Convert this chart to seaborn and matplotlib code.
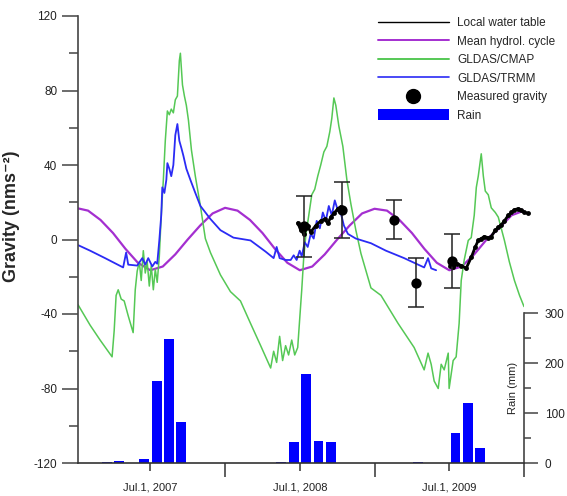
import matplotlib
matplotlib.use("Agg")
import matplotlib.pyplot as plt
from matplotlib.lines import Line2D
from matplotlib.patches import Patch
from matplotlib.ticker import MultipleLocator
from matplotlib.transforms import blended_transform_factory
import seaborn as sns

# ---------------- data (time in decimal years) ----------------
# mean hydrological cycle, sampled at the start of each month 2007-2009
mean_t = [2007 + m / 12 for m in range(37)]
mean_v = [17, 15.5, 10.5, 3.5, -5, -12.5, -16.5, -14.5, -8, 0, 7.5, 14,
          17, 15.5, 10.5, 3.5, -5, -12.5, -16.5, -14.5, -8, 0, 7.5, 14,
          16.5, 15.5, 10.5, 3.5, -5, -12.5, -16.5, -14.5, -8, 0, 6, 13,
          15.5]

# GLDAS/CMAP
cmap_t = [2007.016, 2007.097, 2007.164, 2007.244, 2007.258, 2007.271, 2007.285,
          2007.305, 2007.325, 2007.352, 2007.385, 2007.399, 2007.412, 2007.426,
          2007.439, 2007.453, 2007.466, 2007.479, 2007.493, 2007.506, 2007.520,
          2007.533, 2007.546, 2007.560, 2007.573, 2007.587, 2007.600, 2007.614,
          2007.627, 2007.640, 2007.654, 2007.667, 2007.681, 2007.694, 2007.701,
          2007.715, 2007.728, 2007.741, 2007.755, 2007.775, 2007.801, 2007.835,
          2007.868, 2007.902, 2007.969, 2008.036, 2008.103, 2008.170, 2008.238,
          2008.305, 2008.325, 2008.345, 2008.365, 2008.385, 2008.405, 2008.425,
          2008.446, 2008.466, 2008.486, 2008.499, 2008.513, 2008.526, 2008.540,
          2008.560, 2008.580, 2008.600, 2008.620, 2008.640, 2008.661, 2008.681,
          2008.701, 2008.714, 2008.728, 2008.741, 2008.761, 2008.788, 2008.815,
          2008.842, 2008.875, 2008.909, 2008.976, 2009.043, 2009.157, 2009.265,
          2009.332, 2009.358, 2009.379, 2009.399, 2009.426, 2009.446, 2009.466,
          2009.493, 2009.499, 2009.526, 2009.546, 2009.566, 2009.580, 2009.600,
          2009.627, 2009.647, 2009.667, 2009.681, 2009.694, 2009.714, 2009.728,
          2009.741, 2009.761, 2009.781, 2009.808, 2009.828, 2009.869, 2009.902,
          2009.936, 2009.970, 2010.000]
cmap_v = [-35, -46, -54, -63, -49, -30, -27,
          -32, -33, -41, -50, -27, -17, -12,
          -22, -6, -18, -12, -25, -14, -27,
          -16, -23, -9, 13, 32, 53, 69,
          67, 70, 68, 75, 77, 96, 100,
          83, 77, 72, 64, 48, 34, 18,
          0.5, -7, -19, -28, -33, -45, -57,
          -69, -60, -66, -52, -65, -57, -62,
          -54, -62, -58, -43, -27, -10, 2,
          13, 24, 27, 34, 40, 47, 50,
          58, 65, 76, 72, 61, 50, 32,
          19, 5, -7.5, -26, -30, -45, -58,
          -70, -61, -67, -76, -80, -67, -70,
          -61, -80, -65, -63, -45, -22, -11,
          -0.5, 1, 13, 28, 34, 46, 34,
          26, 24, 17, 14.5, 12, -0.5, -12,
          -22, -30, -36]

# GLDAS/TRMM
trmm_t = [2007.016, 2007.097, 2007.197, 2007.318, 2007.338, 2007.352, 2007.412,
          2007.446, 2007.466, 2007.486, 2007.513, 2007.533, 2007.546, 2007.560,
          2007.573, 2007.580, 2007.594, 2007.607, 2007.614, 2007.627, 2007.640,
          2007.654, 2007.667, 2007.681, 2007.694, 2007.708, 2007.721, 2007.741,
          2007.768, 2007.801, 2007.835, 2007.902, 2007.969, 2008.056, 2008.170,
          2008.271, 2008.325, 2008.345, 2008.365, 2008.405, 2008.439, 2008.459,
          2008.479, 2008.499, 2008.513, 2008.533, 2008.553, 2008.573, 2008.593,
          2008.613, 2008.634, 2008.654, 2008.674, 2008.694, 2008.714, 2008.734,
          2008.755, 2008.775, 2008.795, 2008.822, 2008.875, 2008.976, 2009.076,
          2009.198, 2009.332, 2009.358, 2009.379, 2009.412]
trmm_v = [-3, -6, -10, -15, -7, -13.5, -14,
          -10, -13.5, -10, -14.5, -12, -13, -0.5,
          13, 28, 25, 32, 41, 38, 34,
          40, 56, 62, 53, 49, 45, 38,
          32, 25, 18, 11, 5, 1, -0.5,
          -6.5, -10, -4, -10, -11, -11, -8.5,
          -11, -6, -9, -1.5, -4, 3, 0.5,
          10, 6, 14.5, 10, 18, 13, 21,
          15.5, 14, 7.5, 3, 0.5, -2, -6,
          -10, -15, -10, -15.5, -16.5]

# local water table (two observation periods)
wt1_t = [2008.486, 2008.506, 2008.526, 2008.553, 2008.573, 2008.607, 2008.640,
         2008.667, 2008.687, 2008.707, 2008.728, 2008.755, 2008.775, 2008.795]
wt1_v = [9, 5, 3, 7, 4, 7.5, 10, 11, 8.6, 12, 14, 16.6, 17.7, 15.5]
wt2_t = [2009.506, 2009.526, 2009.553, 2009.580, 2009.613, 2009.647, 2009.674,
         2009.694, 2009.714, 2009.734, 2009.761, 2009.781, 2009.808, 2009.828,
         2009.849, 2009.869, 2009.895, 2009.916, 2009.936, 2009.963, 2009.983,
         2010.003, 2010.030]
wt2_v = [-14, -15, -13, -14, -15.5, -9.6, -4, -0.5, 0.5, 1.6, 1, 1.6, 5, 6.5,
         8, 10, 13, 14.5, 16, 16.6, 15.6, 14.5, 14]

# measured gravity with uncertainties
grav_t = [2008.526, 2008.782, 2009.131, 2009.278, 2009.519]
grav_v = [7, 16, 10.7, -23.2, -11.5]
grav_err = [16.5, 15, 10.3, 13.3, 14.5]

# monthly rain (mm), Jan 2007 - Dec 2009
rain_mm = [0, 0, 2, 4, 0, 8, 164, 248, 82, 0, 0, 0,
           0, 0, 0, 0, 2, 42, 178, 44, 42, 0, 0, 0,
           0, 0, 0, 2, 0, 0, 60, 120, 30, 0, 0, 0]
rain_t = [2007 + (m + 0.5) / 12 for m in range(36)]

year_ticks = [2008, 2009, 2010]
date_ticks = [2007.5, 2008.5, 2009.5]
date_labels = ["Jul.1, 2007", "Jul.1, 2008", "Jul.1, 2009"]

# ---------------- colours ----------------
C_MEAN = "#a42fd0"
C_CMAP = "#55c855"
C_TRMM = "#2b2bf5"
C_RAIN = "#0000ff"
C_AXIS = "#444444"

sns.set_style("ticks")
plt.rcParams["font.family"] = ["Liberation Sans", "DejaVu Sans"]
plt.rcParams["axes.unicode_minus"] = False

fig = plt.figure(figsize=(5.67, 4.96), dpi=100)
ax = fig.add_axes([78 / 567, 33 / 496, 446 / 567, 447 / 496])

# rain on a secondary axis, drawn first so the curves sit above it
ax2 = ax.twinx()
sns.barplot(x=rain_t, y=rain_mm, native_scale=True, color=C_RAIN,
            saturation=1, width=0.8, errorbar=None, ax=ax2, linewidth=0)
ax2.set_ylim(0, 894)
ax2.set_xlabel("")
ax2.set_ylabel("")

sns.lineplot(x=mean_t, y=mean_v, color=C_MEAN, lw=1.6, sort=False,
             estimator=None, ax=ax)
sns.lineplot(x=cmap_t, y=cmap_v, color=C_CMAP, lw=1.1, sort=False,
             estimator=None, ax=ax)
sns.lineplot(x=trmm_t, y=trmm_v, color=C_TRMM, lw=1.3, sort=False,
             estimator=None, ax=ax)
for wt_t, wt_v in ((wt1_t, wt1_v), (wt2_t, wt2_v)):
    sns.lineplot(x=wt_t, y=wt_v, color="black", lw=2.0, sort=False,
                 estimator=None, marker="o", markersize=3.5,
                 markeredgewidth=0, ax=ax, clip_on=False)

ax.errorbar(grav_t, grav_v, yerr=grav_err, fmt="none", ecolor="#222222",
            elinewidth=1.1, capsize=6, capthick=1.1, zorder=4)
sns.scatterplot(x=grav_t, y=grav_v, color="black", s=55, linewidth=0,
                ax=ax, zorder=5)

# ---------------- axes styling ----------------
ax.set_xlim(2007.016, 2010.0)
ax.set_ylim(-120, 120)
ax.patch.set_visible(False)
ax.set_zorder(ax2.get_zorder() + 1)

for side in ("top", "right"):
    ax.spines[side].set_visible(False)
ax.spines["left"].set_color(C_AXIS)
ax.spines["bottom"].set_color("#333333")
ax.spines["left"].set_linewidth(1.2)
ax.spines["bottom"].set_linewidth(1.2)

ax.set_yticks(range(-120, 121, 40))
ax.yaxis.set_minor_locator(MultipleLocator(20))
ax.tick_params(axis="y", which="major", length=11.5, width=1.1,
               color=C_AXIS, pad=3.5, labelsize=8.5, labelcolor="#222222")
ax.tick_params(axis="y", which="minor", length=6.5, width=1.1, color=C_AXIS)

ax.set_xticks(year_ticks, labels=["", "", ""])
ax.set_xticks(date_ticks, labels=date_labels, minor=True)
ax.tick_params(axis="x", which="major", length=10, width=1.1, color="#333333")
ax.tick_params(axis="x", which="minor", length=6, width=1.1, color="#333333",
               pad=8, labelsize=8, labelcolor="#222222")

ax.set_xlabel("")
ax.set_ylabel("Gravity (nms⁻²)", fontsize=13, fontweight="bold")
ax.yaxis.set_label_coords(-0.13, 0.553)

for side in ("top", "left", "bottom"):
    ax2.spines[side].set_visible(False)
ax2.spines["right"].set_bounds(0, 300)
ax2.spines["right"].set_color(C_AXIS)
ax2.spines["right"].set_linewidth(1.2)
ax2.set_yticks([0, 100, 200, 300])
ax2.set_yticks([50, 150, 250], minor=True)
ax2.tick_params(axis="y", which="major", length=10, width=1.1, color=C_AXIS,
                pad=5, labelsize=8.5, labelcolor="#222222")
ax2.tick_params(axis="y", which="minor", length=5, width=1.1, color=C_AXIS)
ax2.text(0.976, 150, "Rain (mm)", rotation=90, ha="center", va="center",
         fontsize=8, color="#222222",
         transform=blended_transform_factory(ax2.transAxes, ax2.transData))

# ---------------- legend ----------------
handles = [
    Line2D([], [], color="black", lw=1.0),
    Line2D([], [], color=C_MEAN, lw=1.4),
    Line2D([], [], color=C_CMAP, lw=1.4),
    Line2D([], [], color=C_TRMM, lw=1.2),
    Line2D([], [], ls="none", marker="o", color="black", markersize=10),
    Patch(facecolor=C_RAIN, edgecolor="none"),
]
labels = ["Local water table", "Mean hydrol. cycle", "GLDAS/CMAP",
          "GLDAS/TRMM", "Measured gravity", "Rain"]
fig.legend(handles, labels, loc="upper left",
           bbox_to_anchor=(378 / 567, 1 - 17 / 496), frameon=False,
           fontsize=8.5, handlelength=6, handletextpad=0.7,
           labelspacing=0.52, borderpad=0, borderaxespad=0,
           handleheight=1.0)

fig.savefig("out.png", dpi=100)
